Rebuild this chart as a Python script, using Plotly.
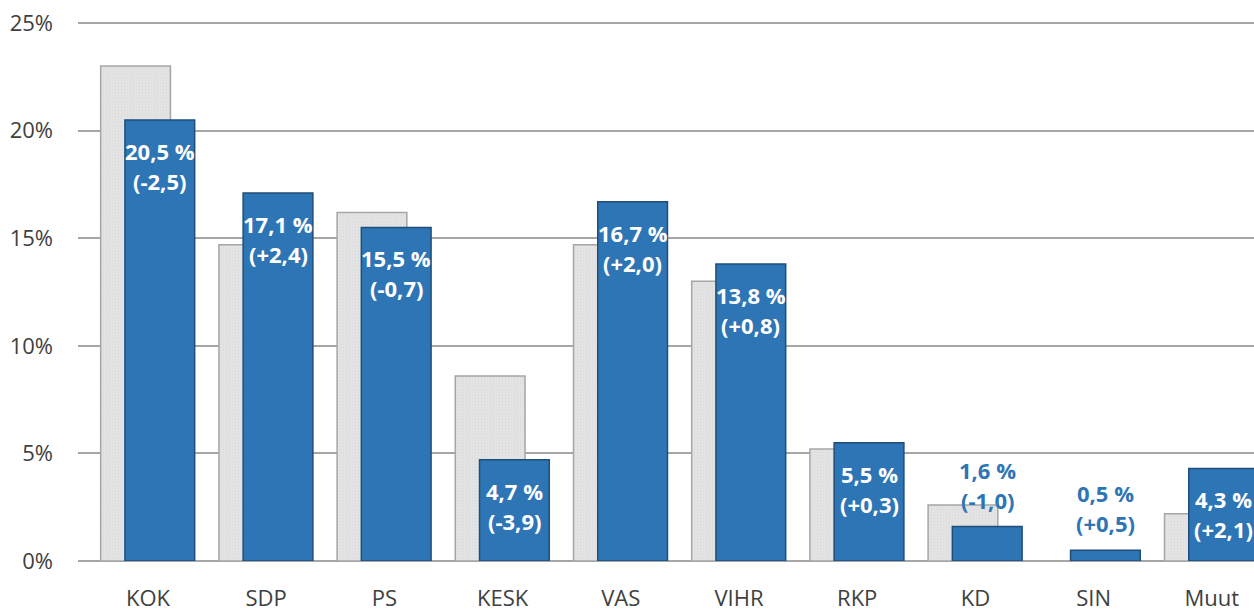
import plotly.graph_objects as go

parties = ["KOK", "SDP", "PS", "KESK", "VAS", "VIHR", "RKP", "KD", "SIN", "Muut"]
previous = [23.0, 14.7, 16.2, 8.6, 14.7, 13.0, 5.2, 2.6, 0.0, 2.2]
current = [20.5, 17.1, 15.5, 4.7, 16.7, 13.8, 5.5, 1.6, 0.5, 4.3]
change = [-2.5, 2.4, -0.7, -3.9, 2.0, 0.8, 0.3, -1.0, 0.5, 2.1]
y_ticks = [0, 5, 10, 15, 20, 25]

BLUE = "#2E75B6"
FONT = "Open Sans"


def fi(v, signed=False):
    s = f"{v:+.1f}" if signed else f"{v:.1f}"
    return s.replace(".", ",")


fig = go.Figure()
fig.add_trace(go.Bar(
    x=parties, y=previous, offset=-0.40, width=0.59,
    marker=dict(color="#DEDEDE", line=dict(color="#A6A6A6", width=1.5),
                pattern=dict(shape=".", fgcolor="#CFCFCF", bgcolor="#E3E3E3",
                             size=3, solidity=0.15)),
    showlegend=False, hoverinfo="skip",
))
fig.add_trace(go.Bar(
    x=parties, y=current, offset=-0.195, width=0.59,
    marker=dict(color=BLUE, line=dict(color="#1F4E79", width=1.5)),
    showlegend=False,
))

# value labels: inside the blue bar (white) or above it (blue) when the bar is short
for p, v, d in zip(parties, current, change):
    inside = v >= 3
    color = "white" if inside else BLUE
    shifts = (-31, -61) if inside else (57, 27)
    for txt, ys in zip([f"{fi(v)} %", f"({fi(d, True)})"], shifts):
        fig.add_annotation(x=p, y=v, text=f"<b>{txt}</b>", showarrow=False,
                           xshift=12, yshift=ys, yanchor="middle",
                           font=dict(family=FONT, size=22, color=color))

fig.update_layout(
    width=1254, height=613,
    margin=dict(l=78, r=0, t=22, b=52),
    plot_bgcolor="white", paper_bgcolor="white",
    barmode="overlay",
    font=dict(family=FONT, size=22, color="#404040"),
    xaxis=dict(range=[-0.592, 9.357], showgrid=False, showline=False,
               ticks="", ticklabelstandoff=22, tickfont=dict(size=22)),
    yaxis=dict(range=[0, 25.05], tickvals=y_ticks,
               ticktext=[f"{t}%" for t in y_ticks],
               showgrid=True, gridcolor="#A6A6A6", gridwidth=2,
               zeroline=True, zerolinecolor="#A6A6A6", zerolinewidth=2,
               ticks="", ticklabelstandoff=24, tickfont=dict(size=22)),
)

# drop the default page margin so the figure fills the window exactly
fig.write_html("out.html", config={"displayModeBar": False},
               post_script="document.body.style.margin='0';")
